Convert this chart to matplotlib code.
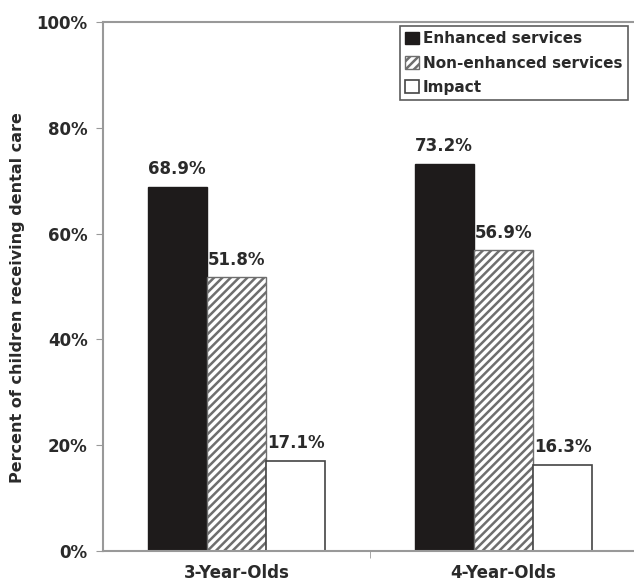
import numpy as np
import matplotlib.pyplot as plt

groups = ['3-Year-Olds', '4-Year-Olds']
enhanced = [68.9, 73.2]
non_enhanced = [51.8, 56.9]
impact = [17.1, 16.3]

plt.rcParams['font.family'] = 'DejaVu Sans'
plt.rcParams['font.weight'] = 'bold'
plt.rcParams['hatch.linewidth'] = 1.8
plt.rcParams['hatch.color'] = '#6e6e6e'

W, H = 634, 583
fig = plt.figure(figsize=(W / 100, H / 100), dpi=100)
ax = fig.add_axes([103 / W, 1 - 551 / H, 534 / W, 529 / H])

x = np.arange(len(groups))
w = 0.222
ax.bar(x - w, enhanced, w, color='#1e1b1b', edgecolor='#1e1b1b', label='Enhanced services')
ax.bar(x, non_enhanced, w, color='white', edgecolor='#6e6e6e', hatch='////', linewidth=1,
       label='Non-enhanced services')
ax.bar(x + w, impact, w, color='white', edgecolor='#444444', linewidth=1.2, label='Impact')

for xs, vals in [(x - w, enhanced), (x, non_enhanced), (x + w, impact)]:
    for xi, v in zip(xs, vals):
        ax.text(xi, v + 1.6, '%.1f%%' % v, ha='center', va='bottom',
                fontsize=12, fontweight='bold', color='#2a2a2a')

ax.set_xlim(-0.5, 1.5)
ax.set_ylim(0, 100)
ax.set_yticks([0, 20, 40, 60, 80, 100])
ax.set_yticklabels(['0%', '20%', '40%', '60%', '80%', '100%'])
ax.set_xticks(x)
ax.set_xticklabels(groups)
ax.set_xticks([0.5], minor=True)
ax.tick_params(axis='x', which='major', length=0, pad=9, labelsize=12)
ax.tick_params(axis='x', which='minor', length=5, color='#999999', direction='out')
ax.tick_params(axis='y', length=5, color='#999999', labelsize=12, pad=6)
for lab in ax.get_xticklabels() + ax.get_yticklabels():
    lab.set_fontweight('bold')
    lab.set_color('#2a2a2a')

for s in ['left', 'bottom', 'top']:
    ax.spines[s].set_color('#999999')
    ax.spines[s].set_linewidth(1.5)
ax.spines['right'].set_visible(False)

ax.set_ylabel('Percent of children receiving dental care', fontsize=11.5, fontweight='bold',
              color='#2a2a2a')
ax.yaxis.set_label_coords(-78 / 534, 0.48)

leg = ax.legend(loc='upper left', bbox_to_anchor=(400 / W, 1 - 26 / H),
                bbox_transform=fig.transFigure, borderaxespad=0, fontsize=11,
                frameon=True, fancybox=False, edgecolor='#333333', handlelength=0.9,
                handleheight=0.9, handletextpad=0.25, borderpad=0.35, labelspacing=0.6)
leg.get_frame().set_linewidth(1.2)
for t in leg.get_texts():
    t.set_fontweight('bold')
    t.set_color('#2a2a2a')

plt.savefig('out.png', dpi=100)
